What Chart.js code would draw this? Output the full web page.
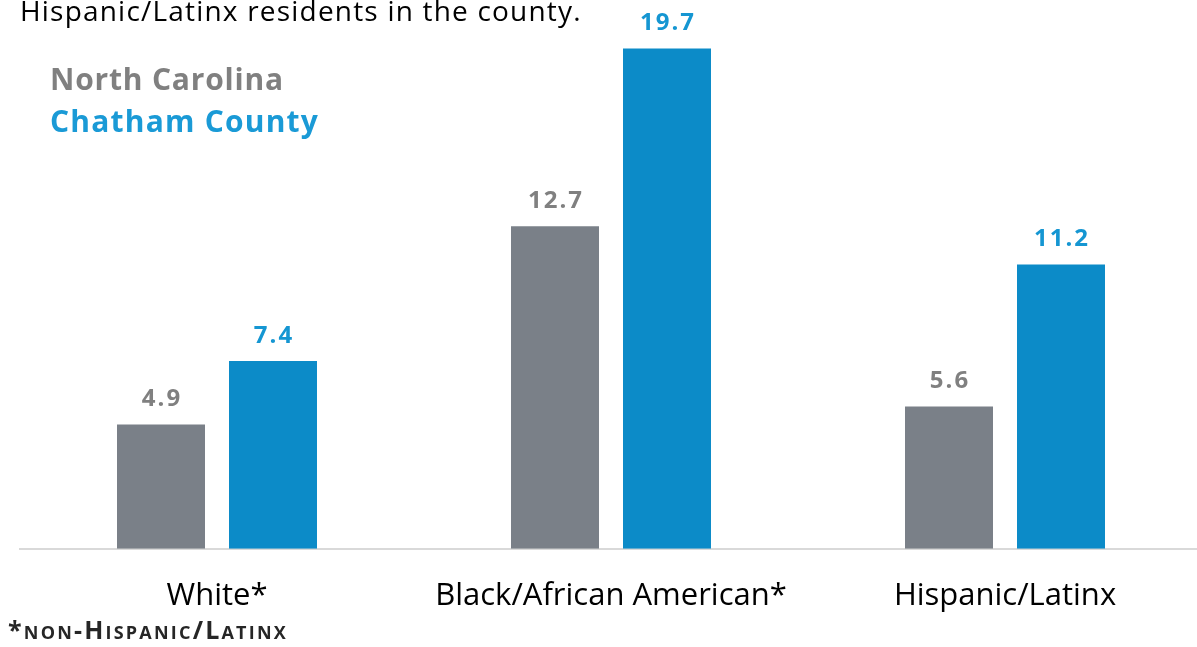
<!DOCTYPE html>
<html>
<head>
<meta charset="utf-8">
<script src="https://cdn.jsdelivr.net/npm/chart.js@4"></script>
<style>
	body { margin: 0; background: #fff; overflow: hidden; font-family: "Open Sans", sans-serif; }
	#wrap { position: relative; width: 1197px; height: 647px; overflow: hidden; }
	#box { position: absolute; left: 0; top: 0; width: 1202px; height: 647px; }
	.txt { position: absolute; white-space: nowrap; }
	#intro { left: 20px; top: -9px; font-size: 28px; color: #000; letter-spacing: 1.2px; }
	#lg1 { left: 50px; top: 58px; font-size: 30px; font-weight: bold; color: #808080; letter-spacing: 0.8px; }
	#lg2 { left: 50px; top: 100px; font-size: 30px; font-weight: bold; color: #1a9ad6; letter-spacing: 1.2px; }
	#note { left: 8px; top: 612px; font-size: 25px; font-weight: bold; color: #262626; font-variant: small-caps; letter-spacing: 2.2px; }
</style>
</head>
<body>
<div id="wrap">
	<div id="box"><canvas id="cntx_rates"></canvas></div>
	<div class="txt" id="intro">Hispanic/Latinx residents in the county.</div>
	<div class="txt" id="lg1">North Carolina</div>
	<div class="txt" id="lg2">Chatham County</div>
	<div class="txt" id="note">*non-Hispanic/Latinx</div>
</div>
<script>
const groups = ["White*", "Black/African American*", "Hispanic/Latinx"];
const nc_values = [4.9, 12.7, 5.6];
const chatham_values = [7.4, 19.7, 11.2];
const series_names = ["North Carolina", "Chatham County"];

// value labels over each bar
const barLabels = {
	id: "barLabels",
	afterDatasetsDraw(chart) {
		const ctx = chart.ctx;
		ctx.save();
		ctx.font = "bold 24px 'Open Sans', sans-serif";
		ctx.letterSpacing = "2px";
		ctx.textAlign = "center";
		ctx.textBaseline = "bottom";
		chart.data.datasets.forEach((ds, i) => {
			ctx.fillStyle = ds.labelColor;
			chart.getDatasetMeta(i).data.forEach((bar, j) => {
				ctx.fillText(ds.data[j].toFixed(1), bar.x + 1, bar.y - 13);
			});
		});
		ctx.restore();
	},
};

const canvas = document.querySelector("#cntx_rates");
const myChart = new Chart(canvas, {
	type: "bar",
	data: {
		labels: groups,
		datasets: [
			{
				label: series_names[0],
				data: nc_values,
				backgroundColor: "#7a8088",
				labelColor: "#808080",
			},
			{
				label: series_names[1],
				data: chatham_values,
				backgroundColor: "#0c8bc8",
				labelColor: "#1596d2",
			},
		],
	},
	options: {
		responsive: true,
		maintainAspectRatio: false,
		animation: false,
		categoryPercentage: 0.5685,
		barPercentage: 0.7857,
		layout: { padding: { left: 20, right: 0, top: 41, bottom: 11 } },
		plugins: {
			legend: { display: false },
			tooltip: { enabled: false },
		},
		scales: {
			x: {
				grid: { display: false },
				border: { color: "#d9d9d9", width: 2 },
				ticks: {
					color: "#000",
					padding: 21,
					font: { family: "'Open Sans', sans-serif", size: 31 },
				},
			},
			y: {
				display: false,
				min: 0,
				max: 20,
			},
		},
	},
	plugins: [barLabels],
});
</script>
</body>
</html>
